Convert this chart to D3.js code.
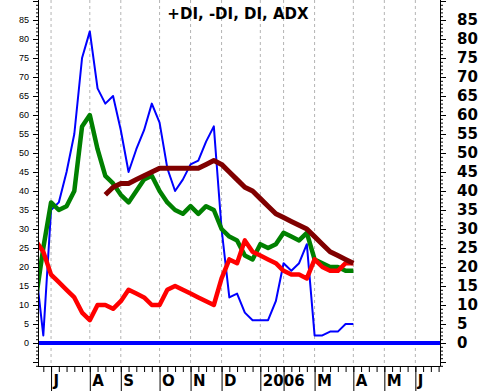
<!DOCTYPE html>
<html>
<head>
<meta charset="utf-8">
<script src="https://cdn.jsdelivr.net/npm/d3@7"></script>
<style>
body { margin: 0; background: #fff; }
text { font-family: "DejaVu Sans", sans-serif; }
</style>
</head>
<body>
<svg id="chart" width="478" height="391"></svg>
<script>
// week index -1 .. 40 (index 1 = first week of July 2005)
var weeks = d3.range(-1, 41);
var dx =      [20, 2, 35, 37, 45, 55, 75, 82, 67, 63, 65, 56, 45, 51, 56, 63, 58, 46, 40, 43, 47, 48, 53, 57, 30, 12, 13, 8, 6, 6, 6, 11, 21, 19, 21, 26, 2, 2, 3, 3, 5, 5];
var plusDI =  [11, 25, 37, 35, 36, 40, 57, 60, 51, 44, 42, 39, 37, 40, 43, 44, 40, 37, 35, 34, 36, 34, 36, 35, 30, 28, 27, 23, 22, 26, 25, 26, 29, 28, 27, 29, 22, 21, 20, 20, 19, 19];
var minusDI = [27, 24, 18, 16, 14, 12, 8, 6, 10, 10, 9, 11, 14, 13, 12, 10, 10, 14, 15, 14, 13, 12, 11, 10, 17, 22, 21, 27, 24, 23, 22, 21, 19, 18, 18, 17, 22, 20, 19, 19, 21, 21];
var adx =     [null, null, null, null, null, null, null, null, null, 39, 41, 42, 42, 43, 44, 45, 46, 46, 46, 46, 46, 46, 47, 48, 47, 45, 43, 41, 40, 38, 36, 34, 33, 32, 31, 30, 28, 26, 24, 23, 22, 21];

var monthWeeks = [1, 6, 10, 15, 19, 23, 28, 31, 35, 40, 44, 48];
var monthLabels = ['J', 'A', 'S', 'O', 'N', 'D', '2006', '', 'M', 'A', 'M', 'J'];
var yLabels = d3.range(0, 90, 5);

var svg = d3.select('#chart');
var plotLeft = 38, plotRight = 440, plotTop = 0, plotBottom = 366;

var x = d3.scaleLinear().domain([0, 51]).range([43.3, 438.6]);
var y = d3.scaleLinear().domain([0, 85]).range([343, 20]);

// clip for plot
svg.append('clipPath').attr('id', 'clip')
	.append('rect')
	.attr('x', plotLeft).attr('y', plotTop)
	.attr('width', plotRight - plotLeft).attr('height', plotBottom - plotTop);

// vertical grid
svg.append('g').selectAll('line')
	.data(monthWeeks)
	.enter().append('line')
	.attr('x1', function (d) { return x(d); })
	.attr('x2', function (d) { return x(d); })
	.attr('y1', plotTop).attr('y2', plotBottom)
	.attr('stroke', '#b4b4b4')
	.attr('stroke-dasharray', '3,3');

// zero line
svg.append('line')
	.attr('x1', plotLeft).attr('x2', plotRight)
	.attr('y1', y(0)).attr('y2', y(0))
	.attr('stroke', '#0000ff').attr('stroke-width', 4);

var plot = svg.append('g').attr('clip-path', 'url(#clip)');

function series(values, color, width) {
	var line = d3.line()
		.defined(function (d, i) { return values[i] !== null; })
		.x(function (d) { return x(d); })
		.y(function (d, i) { return y(values[i]); });

	plot.append('path')
		.datum(weeks)
		.attr('d', line)
		.attr('fill', 'none')
		.attr('stroke', color)
		.attr('stroke-width', width)
		.attr('stroke-linejoin', 'round');
}

series(dx, '#0000ff', 2);
series(plusDI, '#008000', 4.5);
series(minusDI, '#ff0000', 4.5);
series(adx, '#800000', 5);

// left axis (small labels)
var leftAxis = d3.axisLeft(y)
	.tickValues(d3.range(-5, 91, 5))
	.tickSize(5)
	.tickFormat(function (d) { return yLabels.indexOf(d) >= 0 ? d : ''; });

var gl = svg.append('g').attr('transform', 'translate(' + plotLeft + ',0)').call(leftAxis);
gl.select('.domain').remove();
gl.selectAll('text').attr('x', -9).style('font-family', 'Liberation Sans, sans-serif').style('font-size', '9px').attr('fill', '#000');

svg.append('g').attr('transform', 'translate(' + plotLeft + ',0)')
	.call(d3.axisLeft(y).tickValues(d3.range(-6, 91)).tickSize(2).tickFormat(''))
	.select('.domain').remove();

// right axis (big labels)
var rightAxis = d3.axisRight(y)
	.tickValues(d3.range(-5, 91, 5))
	.tickSize(6)
	.tickFormat(function (d) { return yLabels.indexOf(d) >= 0 ? d : ''; });

var gr = svg.append('g').attr('transform', 'translate(' + plotRight + ',0)').call(rightAxis);
gr.select('.domain').remove();
gr.selectAll('text').attr('x', 17).style('font-family', 'DejaVu Sans, sans-serif').style('font-size', '15px').style('font-weight', 'bold').attr('fill', '#000');

svg.append('g').attr('transform', 'translate(' + plotRight + ',0)')
	.call(d3.axisRight(y).tickValues(d3.range(-6, 91)).tickSize(3).tickFormat(''))
	.select('.domain').remove();

// axis lines
svg.append('line').attr('x1', plotLeft + 0.5).attr('x2', plotLeft + 0.5).attr('y1', 0).attr('y2', plotBottom).attr('stroke', '#000');
svg.append('line').attr('x1', plotRight + 0.5).attr('x2', plotRight + 0.5).attr('y1', 0).attr('y2', plotBottom).attr('stroke', '#000');
svg.append('line').attr('x1', plotLeft).attr('x2', plotRight).attr('y1', plotBottom + 0.5).attr('y2', plotBottom + 0.5).attr('stroke', '#000');

// bottom axis
svg.append('g').attr('transform', 'translate(0,' + plotBottom + ')')
	.call(d3.axisBottom(x).tickValues(d3.range(0, 52)).tickSize(6).tickFormat(''))
	.select('.domain').remove();

var gb = svg.append('g').attr('transform', 'translate(0,' + plotBottom + ')')
	.call(d3.axisBottom(x).tickValues(monthWeeks).tickSize(25)
		.tickFormat(function (d, i) { return monthLabels[i]; }));
gb.select('.domain').remove();
gb.selectAll('text')
	.attr('text-anchor', 'start')
	.attr('x', 2).attr('y', 20).attr('dy', 0)
	.style('font-family', 'DejaVu Sans, sans-serif')
	.style('font-size', '15px').style('font-weight', 'bold')
	.attr('fill', '#000');

svg.selectAll('.tick line').attr('stroke', '#000');

// title
svg.append('text')
	.attr('x', 238).attr('y', 19)
	.attr('text-anchor', 'middle')
	.style('font-size', '15px').style('font-weight', 'bold')
	.text('+DI, -DI, DI, ADX');
</script>
</body>
</html>
